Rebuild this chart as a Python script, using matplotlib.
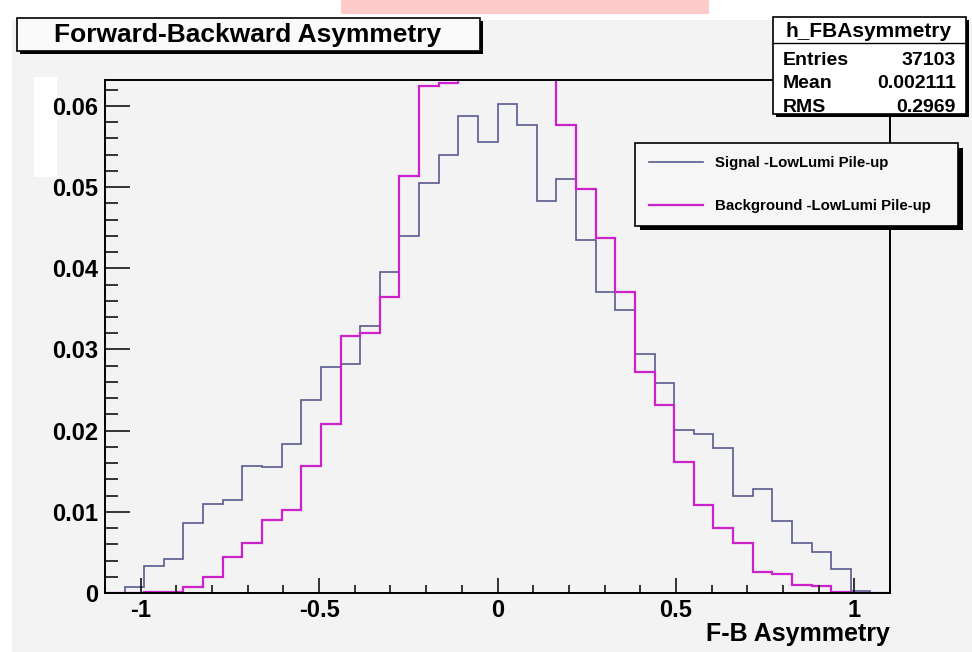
import numpy as np
import matplotlib
matplotlib.use("Agg")
import matplotlib.pyplot as plt
from matplotlib.patches import Rectangle
from matplotlib.ticker import MultipleLocator, FuncFormatter

plt.rcParams['font.family'] = ['Liberation Sans', 'DejaVu Sans']
plt.rcParams['font.weight'] = 'bold'

# 40 bins over [-1.1, 1.1], unit-normalised contents
bin_edges = np.linspace(-1.1, 1.1, 41)

signal = [0.0, 0.00074, 0.00336, 0.0042, 0.0086, 0.0110, 0.0114, 0.0157,
          0.0155, 0.0184, 0.0238, 0.0278, 0.0282, 0.0329, 0.0395, 0.0440,
          0.0505, 0.0539, 0.0588, 0.0556, 0.0602, 0.0576, 0.0483, 0.0510,
          0.0435, 0.0371, 0.0349, 0.0294, 0.0259, 0.0201, 0.0196, 0.0179,
          0.0120, 0.0128, 0.0089, 0.0062, 0.0050, 0.0030, 0.0002, 0.0]

background = [0.0, 0.0, 0.0001, 0.0001, 0.00074, 0.0020, 0.0044, 0.0062,
              0.0090, 0.0102, 0.0157, 0.0208, 0.0317, 0.0320, 0.0365, 0.0514,
              0.0625, 0.0628, 0.0700, 0.0740, 0.0760, 0.0760, 0.0710, 0.0576,
              0.0498, 0.0437, 0.0371, 0.0272, 0.0231, 0.0162, 0.0109, 0.0080,
              0.0062, 0.0026, 0.0023, 0.0010, 0.0009, 0.0001, 0.0, 0.0]

series_labels = ["Signal -LowLumi Pile-up", "Background -LowLumi Pile-up"]
x_ticks = [-1, -0.5, 0, 0.5, 1]
y_ticks = [0, 0.01, 0.02, 0.03, 0.04, 0.05, 0.06]
stats_rows = [("Entries", "37103"), ("Mean", "0.002111"), ("RMS", "0.2969")]

W, H = 972, 652
SIG_COLOR = "#5a5a90"
BKG_COLOR = "#cc22cc"
PAD_GRAY = "#f3f3f3"


def fx(x):
    return x / W


def fy(y):
    return 1 - y / H


fig = plt.figure(figsize=(W / 100, H / 100), dpi=100, facecolor="white")

# canvas pad
fig.add_artist(Rectangle((fx(12), 0), 1 - fx(12), fy(20), transform=fig.transFigure,
                         facecolor=PAD_GRAY, edgecolor="none", zorder=-5))
# strip at the top edge
fig.add_artist(Rectangle((fx(341), fy(14)), fx(709) - fx(341), fy(0) - fy(14),
                         transform=fig.transFigure, facecolor="#ffcaca",
                         edgecolor="none", zorder=-4))
# blank patch left of the y axis (behind the tick labels)
fig.add_artist(Rectangle((fx(34), fy(177)), fx(57) - fx(34), fy(77) - fy(177),
                         transform=fig.transFigure, facecolor="white",
                         edgecolor="none", zorder=-4))

ax = fig.add_axes([fx(105), fy(593), fx(890) - fx(105), fy(80) - fy(593)])
ax.set_facecolor(PAD_GRAY)

sig_art = ax.stairs(signal, bin_edges, color=SIG_COLOR, linewidth=1.2, baseline=0)
bkg_art = ax.stairs(background, bin_edges, color=BKG_COLOR, linewidth=1.6, baseline=0)

ax.set_xlim(-1.1, 1.1)
ax.set_ylim(0, 0.0632)

for s in ax.spines.values():
    s.set_linewidth(1.4)
    s.set_color("black")

fmt = FuncFormatter(lambda v, p: "%g" % v)
ax.set_xticks(x_ticks)
ax.set_yticks(y_ticks)
ax.xaxis.set_major_formatter(fmt)
ax.yaxis.set_major_formatter(fmt)
ax.xaxis.set_minor_locator(MultipleLocator(0.1))
ax.yaxis.set_minor_locator(MultipleLocator(0.002))
ax.tick_params(axis="both", which="both", direction="in", width=1.1, color="black",
               top=False, right=False, labelsize=17)
ax.tick_params(axis="x", which="major", length=11, pad=4)
ax.tick_params(axis="x", which="minor", length=6)
ax.tick_params(axis="y", which="major", length=18, pad=5)
ax.tick_params(axis="y", which="minor", length=9.5)
for lab in ax.get_xticklabels() + ax.get_yticklabels():
    lab.set_fontweight("bold")

ax.set_xlabel("F-B Asymmetry", fontsize=18, fontweight="bold", loc="right",
              labelpad=0)


def pave(x0, y0, x1, y1, shadow, face, z):
    fig.add_artist(Rectangle((fx(x0 + shadow), fy(y1 + shadow)), fx(x1) - fx(x0),
                             fy(y0) - fy(y1), transform=fig.transFigure,
                             facecolor="black", edgecolor="none", zorder=z))
    fig.add_artist(Rectangle((fx(x0), fy(y1)), fx(x1) - fx(x0), fy(y0) - fy(y1),
                             transform=fig.transFigure, facecolor=face,
                             edgecolor="black", linewidth=1.2, zorder=z + 0.1))


# title pave
pave(17, 18, 480, 51, 3, "#fafafa", 3)
fig.text(fx(248), fy(35), "Forward-Backward Asymmetry", fontsize=19, fontweight="bold",
         ha="center", va="center", zorder=4)

# statistics pave
pave(773, 17, 966, 114, 3, "white", 3)
fig.add_artist(plt.Line2D([fx(773), fx(966)], [fy(43), fy(43)], transform=fig.transFigure,
                          color="black", linewidth=1.0, zorder=4))
fig.text(fx(869), fy(37), "h_FBAsymmetry", fontsize=15, fontweight="bold",
         ha="center", va="baseline", zorder=4)
for i, (k, v) in enumerate(stats_rows):
    yy = 65 + 23.5 * i
    fig.text(fx(783), fy(yy), k, fontsize=14, fontweight="bold", ha="left",
             va="baseline", zorder=4)
    fig.text(fx(956), fy(yy), v, fontsize=14, fontweight="bold", ha="right",
             va="baseline", zorder=4)

# legend with drop shadow
LX0, LY0, LX1, LY1 = 635, 143, 958, 225
fig.add_artist(Rectangle((fx(LX0 + 5), fy(LY1 + 5)), fx(LX1) - fx(LX0), fy(LY0) - fy(LY1),
                         transform=fig.transFigure, facecolor="black",
                         edgecolor="none", zorder=4))
leg = fig.legend([sig_art, bkg_art], series_labels, loc="upper left",
                 bbox_to_anchor=(fx(LX0), fy(LY1), fx(LX1) - fx(LX0), fy(LY0) - fy(LY1)),
                 mode="expand", borderaxespad=0, fancybox=False, frameon=True,
                 prop={"size": 10.8, "weight": "bold"}, borderpad=0.9,
                 labelspacing=1.9, handlelength=3.6, handletextpad=0.8)
leg.set_zorder(5)
fr = leg.get_frame()
fr.set_facecolor("#f6f6f6")
fr.set_edgecolor("black")
fr.set_linewidth(1.2)
fr.set_alpha(1)

fig.savefig("out.png", dpi=100, facecolor="white")
